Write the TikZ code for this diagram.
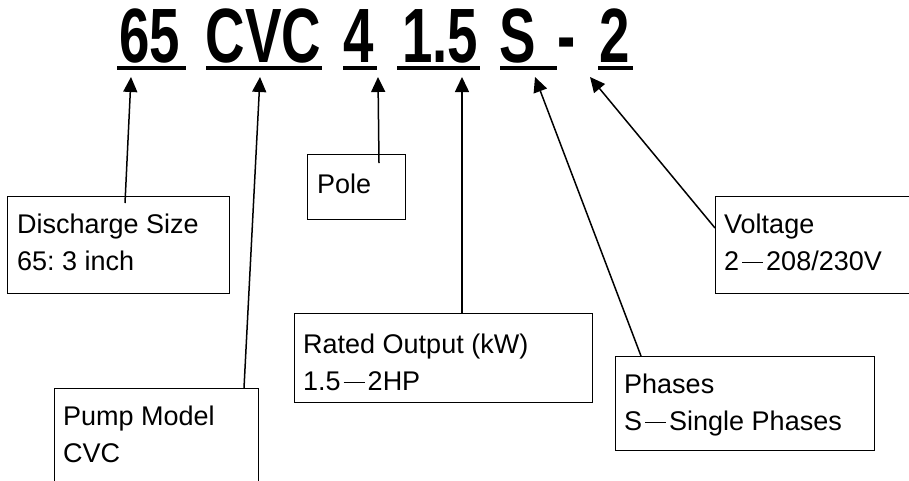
\documentclass[tikz,border=0pt]{standalone}
\usepackage{fontspec}
\setmainfont{Liberation Sans}
\newfontfamily\codefont{Liberation Sans}[FakeStretch=0.71]
\usetikzlibrary{arrows.meta,calc}
\frenchspacing

\newcommand{\fwdash}{\makebox[1em]{\rule[0.28em]{0.78em}{0.05em}}}

\tikzset{
  codetext/.style={font=\codefont\bfseries\fontsize{77}{77}\selectfont, inner sep=0pt, anchor=base},
  uline/.style={line width=4pt},
  infobox/.style={draw, line width=1.2pt, anchor=north west, inner sep=0pt},
  boxtext/.style={font=\fontsize{27}{37.5}\selectfont, align=left, anchor=north west, inner sep=0pt},
  pointer/.style={line width=1.5pt, -{Triangle[length=15pt,width=14pt]}}
}

\begin{document}
\begin{tikzpicture}[x=1pt,y=1pt,yscale=-1]
\useasboundingbox (0,0) rectangle (909,480);
\clip (0,0) rectangle (909,480);

% Model code
\node[codetext] (code65) at (149.5,62) {65};
\node[codetext] (codeCVC) at (263.5,62) {CVC};
\node[codetext] (code4) at (358.5,62) {4};
\node[codetext] (code15) at (440,62) {1.5};
\node[codetext] (codeS) at (518,62) {S};
\node[codetext] (codeDash) at (567,62) {-};
\node[codetext] (code2) at (615,62) {2};

% Underlines
\draw[uline] (117,68) -- (186,68);
\draw[uline] (206,68) -- (322,68);
\draw[uline] (343,68) -- (377,68);
\draw[uline] (397,68) -- (480,68);
\draw[uline] (500,68) -- (557,68);
\draw[uline] (598,68) -- (633,68);

% Arrow tips
\coordinate (tip65) at (131,77);
\coordinate (tipCVC) at (260,77);
\coordinate (tip4) at (378,77);
\coordinate (tip15) at (462,77);
\coordinate (tipS) at (535,77);
\coordinate (tip2) at (590,77);

% Boxes
\node[infobox, minimum width=222pt, minimum height=97pt] (discharge) at (7,196) {};
\node[infobox, minimum width=204pt, minimum height=120pt] (pump) at (54,388) {};
\node[infobox, minimum width=98pt, minimum height=65pt] (pole) at (307,154) {};
\node[infobox, minimum width=298pt, minimum height=89pt] (rated) at (294,313) {};
\node[infobox, minimum width=259pt, minimum height=94pt] (phases) at (615,356) {};
\node[infobox, minimum width=220pt, minimum height=97pt] (voltage) at (715,196) {};

% Text Node
\node[boxtext] (dischargeText) at (17,213.5) {Discharge Size\\65: 3 inch};
\node[boxtext] (pumpText) at (63,405.5) {Pump Model\\CVC};
\node[boxtext] (poleText) at (317,173.5) {Pole};
\node[boxtext] (ratedText) at (303,333.5) {Rated Output (kW)\\1.5\fwdash 2HP};
\node[boxtext] (phasesText) at (624,373.5) {Phases\\S\fwdash Single Phases};
\node[boxtext] (voltageText) at (724,213.5) {Voltage\\2\fwdash 208/230V};

% Pointers
\draw[pointer] ($(discharge.north west)+(118,7)$) -- (tip65);
\draw[pointer] ($(pump.north west)+(190,0)$) -- (tipCVC);
\draw[pointer] ($(pole.north west)+(72,9)$) -- (tip4);
\draw[pointer] ($(rated.north west)+(168,0)$) -- (tip15);
\draw[pointer] ($(phases.north west)+(26,0)$) -- (tipS);
\draw[pointer] ($(voltage.north west)+(0,32)$) -- (tip2);

\end{tikzpicture}
\end{document}
